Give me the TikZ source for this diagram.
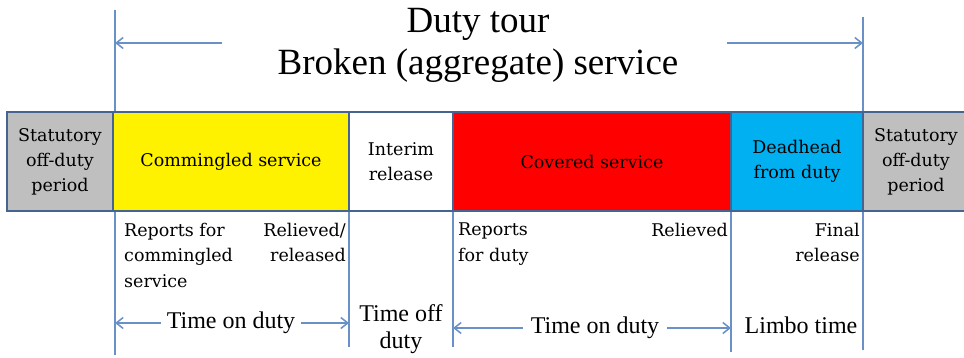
\documentclass[tikz,border=0pt]{standalone}
\usepackage{fontspec}
\setmainfont{Liberation Serif}
\newfontfamily\slabfont{DejaVu Serif}
\usetikzlibrary{arrows.meta,positioning}
\definecolor{boxline}{RGB}{70,100,145}
\definecolor{spanline}{RGB}{105,145,200}
\definecolor{offgray}{RGB}{191,191,191}
\definecolor{deadblue}{RGB}{0,176,240}

\begin{document}
\begin{tikzpicture}[x=1pt,y=-1pt,>={Straight Barb[length=7pt,width=11pt]},
    phase box/.style={draw=boxline,line width=1.3pt,inner sep=0pt,outer sep=0pt,
      minimum height=99pt,align=center,font=\slabfont\fontsize{17.5}{25}\selectfont},
    note text/.style={inner sep=0pt,font=\slabfont\fontsize{17.5}{25.5}\selectfont},
    span text/.style={inner sep=0pt,align=center,font=\fontsize{24}{27}\selectfont},
    span line/.style={draw=spanline,line width=1.5pt}]

  \useasboundingbox (0,0) rectangle (964,358);

  % boundaries of the duty tour
  \coordinate (start top) at (115,10);
  \coordinate (start bot) at (115,355);
  \coordinate (end top) at (863,17);
  \coordinate (end bot) at (863,350);
  \coordinate (interim a) at (349,211);
  \coordinate (interim a bot) at (349,347);
  \coordinate (interim b) at (453,211);
  \coordinate (interim b bot) at (453,347);
  \coordinate (relief) at (731,211);
  \coordinate (relief bot) at (731,352);
  \draw[span line] (start top) -- (start bot);
  \draw[span line] (end top) -- (end bot);
  \draw[span line] (interim a) -- (interim a bot);
  \draw[span line] (interim b) -- (interim b bot);
  \draw[span line] (relief) -- (relief bot);

  % title
  \node[inner sep=0pt,align=center,font=\fontsize{37}{42}\selectfont] (title) at (478,45)
    {Duty tour\\Broken (aggregate) service};
  \coordinate (tour left) at (222,43);
  \coordinate (tour right) at (727,43);
  \draw[span line,->] (tour left) -- (tour left -| start top);
  \draw[span line,->] (tour right) -- (tour right -| end top);

  % phases
  \node[phase box,fill=offgray,minimum width=106pt,anchor=north west] (off left) at (7,112)
    {Statutory\\off-duty\\period};
  \node[phase box,fill=yellow,minimum width=236pt,right=0pt of off left] (mingled)
    {Commingled service};
  \node[phase box,fill=white,minimum width=104pt,right=0pt of mingled] (interim)
    {Interim\\release};
  \node[phase box,fill=red,minimum width=278pt,right=0pt of interim] (covered)
    {Covered service};
  \node[phase box,fill=deadblue,minimum width=132pt,right=0pt of covered] (deadhead)
    {Deadhead\\from duty};
  \node[phase box,fill=offgray,minimum width=106pt,right=0pt of deadhead] (off right)
    {Statutory\\off-duty\\period};

  % events
  \node[note text,align=left,anchor=north west] (rep mingled) at (124,223)
    {Reports for\\commingled\\service};
  \node[note text,align=right,anchor=north east] (rel mingled) at (346,223)
    {Relieved/\\released};
  \node[note text,align=left,anchor=north west] (rep duty) at (458,223)
    {Reports\\for duty};
  \node[note text,align=right,anchor=north east] (rel duty) at (728,223)
    {Relieved};
  \node[note text,align=right,anchor=north east] (final) at (860,223)
    {Final\\release};

  % spans
  \node[span text,inner xsep=6pt] (on duty a) at (231,323) {Time on duty};
  \draw[span line,->] (on duty a) -- (on duty a -| start top);
  \draw[span line,->] (on duty a) -- (on duty a -| interim a);
  \node[span text] (off duty) at (401,329) {Time off\\duty};
  \node[span text,inner xsep=8pt] (on duty b) at (595,328) {Time on duty};
  \draw[span line,->] (on duty b) -- (on duty b -| interim b);
  \draw[span line,->] (on duty b) -- (on duty b -| relief);
  \node[span text] (limbo) at (801,325) {Limbo time};
\end{tikzpicture}
\end{document}
